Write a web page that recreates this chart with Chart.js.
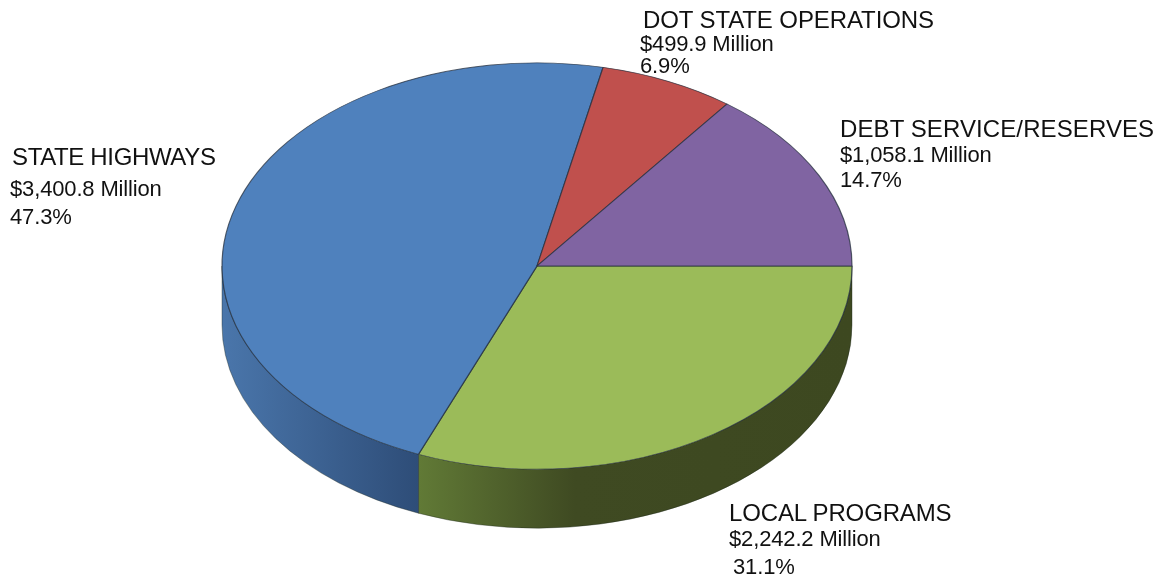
<!DOCTYPE html>
<html>
<head>
<meta charset="utf-8">
<title>Pie</title>
<script src="https://cdn.jsdelivr.net/npm/chart.js@4/dist/chart.umd.min.js"></script>
<style>
  html, body { margin: 0; padding: 0; background: #fff; overflow: hidden; }
  #wrap { position: relative; width: 1166px; height: 579px; }
  canvas { position: absolute; left: 0; top: 0; }
  .lbl {
    position: absolute;
    font-family: "Liberation Sans", Arial, sans-serif;
    color: #111;
    white-space: nowrap;
    line-height: 26px;
    height: 26px;
  }
</style>
</head>
<body>
<div id="wrap">
  <canvas id="pie" width="1166" height="579"></canvas>
</div>
<script>
// clockwise from 3 o'clock
const categories = ["LOCAL PROGRAMS", "STATE HIGHWAYS", "DOT STATE OPERATIONS", "DEBT SERVICE/RESERVES"];
const amounts = [2242.2, 3400.8, 499.9, 1058.1];
const amountLabels = ["$2,242.2 Million", "$3,400.8 Million", "$499.9 Million", "$1,058.1 Million"];
const percentLabels = ["31.1%", "47.3%", "6.9%", "14.7%"];
const sliceColors = ["#9bbb59", "#4f81bd", "#c0504d", "#8064a2"];
// gradient runs from the slice's start angle to its end angle
const wallStops = [
  [[0, "#3d4820"], [0.64, "#3f4a22"], [1, "#617a36"]],
  [[0, "#2e4d78"], [1, "#4a76ab"]],
  [[0, "#7a302e"], [1, "#7a302e"]],
  [[0, "#4c3b61"], [1, "#4c3b61"]],
];

const squash = 0.645;
const depth = 59;

// [left, middle y] of name, amount and percent lines for each slice
const labelSpots = [
  [[729, 513], [729, 539], [733, 567]],
  [[12, 157], [10, 189], [10, 217]],
  [[643, 20], [640, 44], [640, 66]],
  [[840, 129], [840, 155], [840, 180]],
];
const nameSpacing = [-0.15, -0.35, -0.1, 0.1];

const wrap = document.querySelector("#wrap");

function addLabel(text, spot, size, spacing) {
  const el = document.createElement("div");
  el.className = "lbl";
  el.textContent = text;
  el.style.left = spot[0] + "px";
  el.style.top = (spot[1] - 13) + "px";
  el.style.fontSize = size + "px";
  el.style.letterSpacing = spacing + "px";
  wrap.appendChild(el);
}

categories.forEach((name, i) => {
  addLabel(name, labelSpots[i][0], 24, nameSpacing[i]);
  addLabel(amountLabels[i], labelSpots[i][1], 22, -0.15);
  addLabel(percentLabels[i], labelSpots[i][2], 22, -0.15);
});

function drawWall(ctx, arc, i) {
  const a0 = Math.max(arc.startAngle, 0);
  const a1 = Math.min(arc.endAngle, Math.PI);
  if (a1 <= a0) return;
  const r = arc.outerRadius;
  const rY = r * squash;
  const xA = arc.x + r * Math.cos(a0);
  const xB = arc.x + r * Math.cos(a1);
  const grad = ctx.createLinearGradient(xA, 0, xB, 0);
  wallStops[i].forEach((s) => grad.addColorStop(s[0], s[1]));
  ctx.beginPath();
  ctx.ellipse(arc.x, arc.y, r, rY, 0, a0, a1);
  ctx.lineTo(xB, arc.y + rY * Math.sin(a1) + depth);
  ctx.ellipse(arc.x, arc.y + depth, r, rY, 0, a1, a0, true);
  ctx.closePath();
  ctx.fillStyle = grad;
  ctx.fill();
  ctx.strokeStyle = "rgba(30, 40, 30, 0.55)";
  ctx.lineWidth = 0.7;
  ctx.stroke();
}

const tiltPlugin = {
  id: "tilt",
  beforeDatasetDraw(chart, args) {
    const ctx = chart.ctx;
    args.meta.data.forEach((arc, i) => drawWall(ctx, arc, i));
    const first = args.meta.data[0];
    ctx.save();
    ctx.translate(first.x, first.y);
    ctx.scale(1, squash);
    ctx.translate(-first.x, -first.y);
  },
  afterDatasetDraw(chart) {
    chart.ctx.restore();
  },
};

new Chart(document.querySelector("#pie"), {
  type: "pie",
  data: {
    labels: categories,
    datasets: [
      {
        data: amounts,
        backgroundColor: sliceColors,
        borderColor: "rgba(35, 45, 60, 0.75)",
        borderWidth: 1.2,
        clip: false,
      },
    ],
  },
  options: {
    responsive: false,
    animation: false,
    rotation: 90,
    radius: 315,
    layout: { padding: { right: 92, bottom: 47 } },
    events: [],
    plugins: {
      legend: { display: false },
      tooltip: { enabled: false },
    },
  },
  plugins: [tiltPlugin],
});
</script>
</body>
</html>
